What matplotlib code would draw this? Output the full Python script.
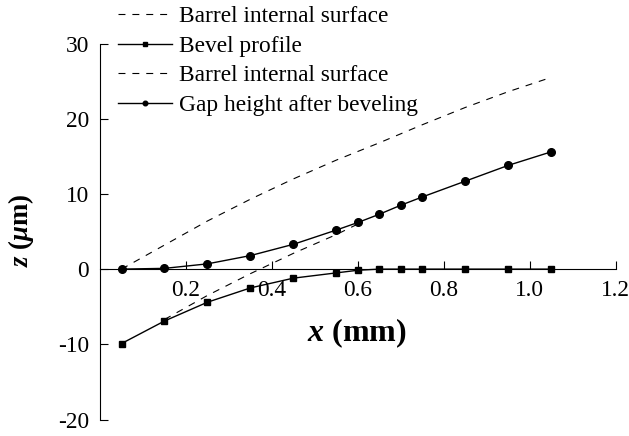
import matplotlib
matplotlib.use("Agg")
import matplotlib.pyplot as plt

plt.rcParams['font.family'] = ['Liberation Serif', 'DejaVu Serif']
plt.rcParams['axes.unicode_minus'] = False
plt.rcParams['mathtext.fontset'] = 'custom'
plt.rcParams['mathtext.rm'] = 'Liberation Serif:bold'
plt.rcParams['mathtext.it'] = 'Liberation Serif:italic:bold'
plt.rcParams['mathtext.bf'] = 'Liberation Serif:bold'
plt.rcParams['lines.scale_dashes'] = False

# x positions (mm)
x = [0.05, 0.15, 0.25, 0.35, 0.45, 0.55, 0.6, 0.65, 0.7, 0.75, 0.85, 0.95, 1.05]
bevel = [-9.9, -6.9, -4.4, -2.5, -1.2, -0.5, -0.15, 0, 0, 0, 0, 0, 0]
gap = [0, 0.1, 0.7, 1.8, 3.3, 5.2, 6.2, 7.3, 8.5, 9.6, 11.7, 13.8, 15.6]

x_barrel = [0.05, 0.15, 0.25, 0.35, 0.45, 0.55, 0.65, 0.75, 0.85, 0.95, 1.05]
barrel = [0, 3.2, 6.4, 9.3, 12.0, 14.5, 16.8, 19.2, 21.5, 23.6, 25.5]

x_barrel2 = [0.15, 0.25, 0.35, 0.45, 0.55, 0.6]
barrel2 = [-6.7, -3.5, -0.6, 2.1, 4.6, 6.0]

xticks = [0.2, 0.4, 0.6, 0.8, 1.0, 1.2]
yticks = [-20, -10, 0, 10, 20, 30]

fig = plt.figure(figsize=(6.29, 4.36), dpi=100)
ax = fig.add_axes([0.159, 0.0378, 0.820, 0.8624])

dash = (0, (5, 5))
ax.plot(x_barrel, barrel, color='black', lw=0.8, linestyle=dash,
        label='Barrel internal surface')
ax.plot(x, bevel, color='black', lw=1.0, marker='s', markersize=5,
        label='Bevel profile')
ax.plot(x_barrel2, barrel2, color='black', lw=0.8, linestyle=dash,
        label='Barrel internal surface')
ax.plot(x, gap, color='black', lw=1.0, marker='o', markersize=5.5,
        label='Gap height after beveling')

ax.set_xlim(0, 1.2)
ax.set_ylim(-20, 30)
ax.spines['top'].set_visible(False)
ax.spines['right'].set_visible(False)
ax.spines['bottom'].set_position(('data', 0))
ax.spines['left'].set_linewidth(0.8)
ax.spines['bottom'].set_linewidth(0.8)

ax.set_xticks(xticks)
ax.set_xticklabels([f'{t:.1f}' for t in xticks])
ax.set_yticks(yticks)
ax.tick_params(direction='in', length=6, width=0.8, labelsize=16.8)
ax.tick_params(axis='x', pad=7.5)
ax.tick_params(axis='y', pad=8)

fig.text(357 / 629, 1 - 333 / 436, r'$x$ (mm)', fontsize=23, fontweight='bold',
         ha='center', va='center')
fig.text(21 / 629, 1 - 230 / 436, r'$z$ ($\mu$m)', fontsize=19.3, fontweight='bold',
         ha='center', va='center', rotation=90)

ax.legend(loc='upper left', bbox_to_anchor=(118 / 629, 0.9862),
          bbox_transform=fig.transFigure, frameon=False, fontsize=16.8,
          handlelength=2.3, handletextpad=0.3, labelspacing=0.35,
          borderpad=0, borderaxespad=0, markerscale=0.6)

fig.savefig('out.png', dpi=100)
